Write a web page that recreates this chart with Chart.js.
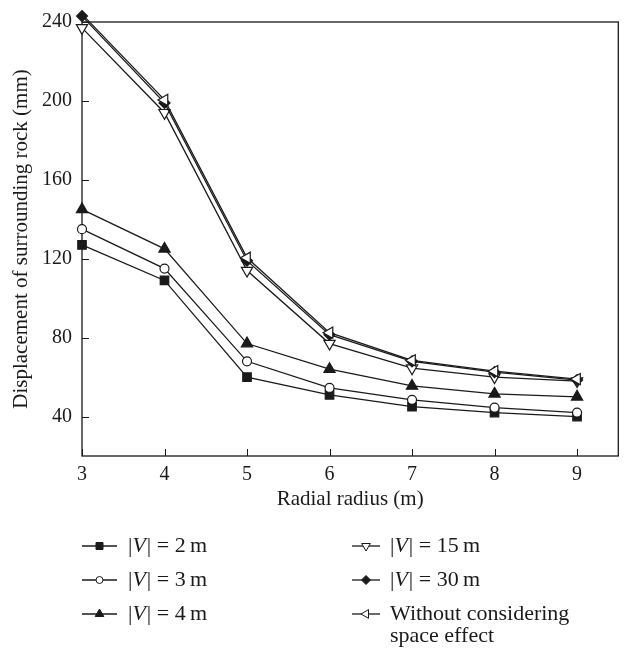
<!DOCTYPE html>
<html>
<head>
<meta charset="utf-8">
<script src="https://cdn.jsdelivr.net/npm/chart.js@4.4.1/dist/chart.umd.min.js"></script>
<style>
  body { margin: 0; background: #fff; }
  #wrap { width: 626px; height: 652px; }
</style>
</head>
<body>
<div id="wrap"><canvas id="myChart" width="626" height="652"></canvas></div>
<script>
// data
const radius = [3, 4, 5, 6, 7, 8, 9];
const v2m = [127, 109, 60, 51, 45, 42, 40];
const v3m = [135, 115, 68, 54.5, 48.5, 44.5, 42];
const v4m = [145, 125, 77, 64, 55.5, 51.5, 50];
const v15m = [237, 194, 114, 77, 64.5, 60, 58];
const v30m = [243, 199, 119, 81.5, 68, 62.5, 58.5];
const noSpace = [244, 200.5, 120.5, 82.5, 68.5, 63, 59];
const seriesNames = ["|V| = 2\u2009m", "|V| = 3\u2009m", "|V| = 4\u2009m", "|V| = 15\u2009m", "|V| = 30\u2009m", "Without considering\nspace effect"];
const xTicks = [3, 4, 5, 6, 7, 8, 9];
const yTicks = [40, 80, 120, 160, 200, 240];

const FONT = "'Liberation Serif', 'DejaVu Serif', serif";

function pts(vals) {
  return vals.map((v, i) => ({ x: radius[i], y: v }));
}

function makeSet(idx, vals, style, rot, filled, r, order) {
  return {
    label: seriesNames[idx],
    data: pts(vals),
    borderColor: "#1a1a1a",
    borderWidth: 1.3,
    pointStyle: style,
    rotation: rot,
    pointRadius: r,
    pointBorderWidth: 1.2,
    pointBorderColor: "#1a1a1a",
    pointBackgroundColor: filled ? "#1a1a1a" : "#fff",
    fill: false,
    tension: 0,
    clip: false,
    order: order
  };
}

// small marker drawing for the legend
function drawMarker(ctx, style, rot, x, y, r, filled) {
  ctx.beginPath();
  if (style == "rect") {
    ctx.rect(x - r, y - r, 2 * r, 2 * r);
  } else if (style == "circle") {
    ctx.arc(x, y, r, 0, Math.PI * 2);
  } else if (style == "rectRot") {
    ctx.moveTo(x, y - r); ctx.lineTo(x + r, y); ctx.lineTo(x, y + r); ctx.lineTo(x - r, y);
    ctx.closePath();
  } else {
    let a = rot * Math.PI / 180;
    for (let k = 0; k < 3; k++) {
      const px = x + Math.sin(a) * r, py = y - Math.cos(a) * r;
      if (k == 0) ctx.moveTo(px, py); else ctx.lineTo(px, py);
      a += Math.PI * 2 / 3;
    }
    ctx.closePath();
  }
  ctx.fillStyle = filled ? "#1a1a1a" : "#fff";
  ctx.fill();
  ctx.lineWidth = 1;
  ctx.strokeStyle = "#1a1a1a";
  ctx.stroke();
}

// text with italic V
function drawLabel(ctx, text, x, y) {
  const lines = text.split("\n");
  lines.forEach((line, li) => {
    let cx = x;
    const ly = y + li * 22;
    if (line.indexOf("|V|") == 0) {
      const parts = [["|", "normal"], ["V", "italic"], [line.slice(2), "normal"]];
      parts.forEach(p => {
        ctx.font = p[1] + " 22px " + FONT;
        ctx.fillText(p[0], cx, ly);
        cx += ctx.measureText(p[0]).width + (p[1] == "italic" ? 1 : 0);
      });
    } else {
      ctx.font = "22px " + FONT;
      ctx.fillText(line, cx, ly);
    }
  });
}

const frameAndTicks = {
  id: "frameAndTicks",
  beforeDatasetsDraw(chart) {
    const ctx = chart.ctx, a = chart.chartArea;
    const xs = chart.scales.x, ys = chart.scales.y;
    ctx.save();
    ctx.strokeStyle = "#1a1a1a";
    ctx.lineWidth = 1.3;
    ctx.strokeRect(a.left, a.top, a.right - a.left, a.bottom - a.top);
    ctx.beginPath();
    xTicks.forEach(t => {
      const px = Math.round(xs.getPixelForValue(t)) + 0.5;
      ctx.moveTo(px, a.bottom); ctx.lineTo(px, a.bottom - 7);
    });
    yTicks.forEach(t => {
      const py = Math.round(ys.getPixelForValue(t)) + 0.5;
      ctx.moveTo(a.left, py); ctx.lineTo(a.left + 7, py);
    });
    ctx.lineWidth = 1;
    ctx.stroke();
    ctx.restore();
  },
  afterDraw(chart) {
    const ctx = chart.ctx;
    const sets = chart.data.datasets;
    const cols = [{ x0: 82, x1: 117, tx: 128 }, { x0: 352, x1: 380, tx: 390 }];
    const rows = [546, 580, 614];
    const legR = { rect: 3.5, circle: 3.5, triangle: 5, rectRot: 4.5 };
    ctx.save();
    ctx.textBaseline = "middle";
    ctx.fillStyle = "#1a1a1a";
    sets.forEach((ds, i) => {
      const c = cols[Math.floor(i / 3)];
      const y = rows[i % 3];
      ctx.beginPath();
      ctx.moveTo(c.x0, y); ctx.lineTo(c.x1, y);
      ctx.lineWidth = 1.3;
      ctx.strokeStyle = "#1a1a1a";
      ctx.stroke();
      drawMarker(ctx, ds.pointStyle, ds.rotation, (c.x0 + c.x1) / 2, y, legR[ds.pointStyle], ds.pointBackgroundColor != "#fff");
      ctx.fillStyle = "#1a1a1a";
      drawLabel(ctx, ds.label, c.tx, y);
    });
    ctx.restore();
  }
};

new Chart("myChart", {
  type: "line",
  data: {
    datasets: [
      makeSet(0, v2m, "rect", 0, true, 6, 5),
      makeSet(1, v3m, "circle", 0, false, 4.5, 4),
      makeSet(2, v4m, "triangle", 0, true, 6.5, 3),
      makeSet(3, v15m, "triangle", 180, false, 6.5, 2),
      makeSet(4, v30m, "rectRot", 0, true, 5.5, 1),
      makeSet(5, noSpace, "triangle", 270, false, 6.5, 0)
    ]
  },
  options: {
    responsive: false,
    animation: false,
    devicePixelRatio: 1,
    layout: { padding: { left: 0, right: 5, top: 22, bottom: 136 } },
    plugins: { legend: { display: false }, tooltip: { enabled: false } },
    scales: {
      x: {
        type: "linear",
        min: 3,
        max: 9.5,
        afterBuildTicks: s => { s.ticks = xTicks.map(v => ({ value: v })); },
        afterFit: s => { s.height = 60; },
        grid: { display: false, drawTicks: false },
        border: { display: false },
        ticks: { color: "#1a1a1a", font: { family: FONT, size: 20 }, padding: 7, maxRotation: 0 },
        title: { display: true, text: "Radial radius (m)", color: "#1a1a1a", font: { family: FONT, size: 21 }, padding: { top: 4, bottom: 4 } }
      },
      y: {
        min: 20,
        max: 240,
        afterBuildTicks: s => { s.ticks = yTicks.map(v => ({ value: v })); },
        afterFit: s => { s.width = 82; },
        grid: { display: false, drawTicks: false },
        border: { display: false },
        ticks: { color: "#1a1a1a", font: { family: FONT, size: 20 }, padding: 10 },
        title: { display: true, text: "Displacement of surrounding rock (mm)", color: "#1a1a1a", font: { family: FONT, size: 21 }, padding: { top: 9, bottom: 4 } }
      }
    }
  },
  plugins: [frameAndTicks]
});
</script>
</body>
</html>
